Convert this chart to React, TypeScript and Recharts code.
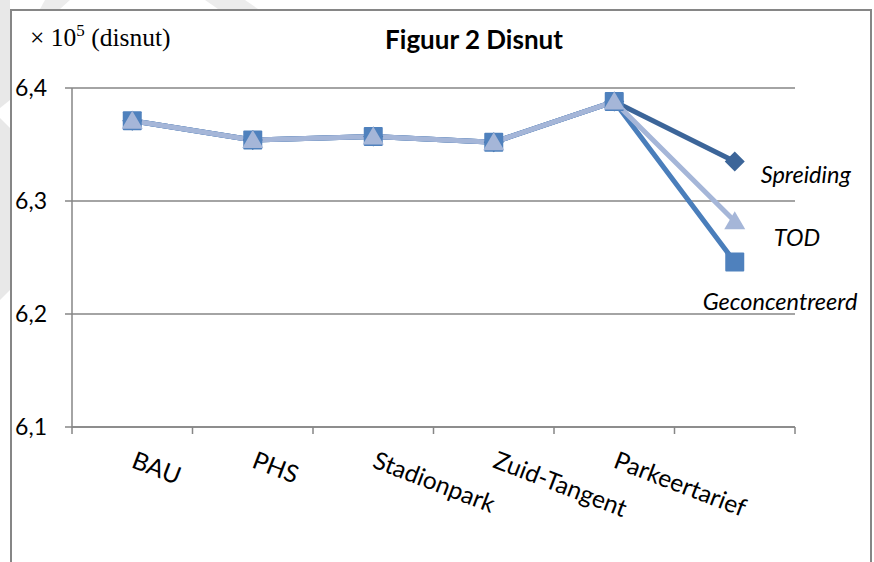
import { LineChart, Line, XAxis, YAxis, CartesianGrid, LabelList } from "recharts";

// categories along the x axis (last one has no label)
const categories = ["BAU", "PHS", "Stadionpark", "Zuid-Tangent", "Parkeertarief", ""];

// disnut values (x 10^5)
const spreiding = [6.371, 6.354, 6.357, 6.352, 6.388, 6.335];
const geconcentreerd = [6.371, 6.354, 6.357, 6.352, 6.388, 6.246];
const tod = [6.371, 6.354, 6.357, 6.352, 6.388, 6.282];

const yTicks = [6.1, 6.2, 6.3, 6.4];
const xTicks = [0, 1, 2, 3, 4, 5, 6];

const data = categories.map((name, i) => ({
  name,
  pos: i + 0.5,
  spreiding: spreiding[i],
  geconcentreerd: geconcentreerd[i],
  tod: tod[i],
}));

const AXIS = "#868686";
const FONT = "Lato, 'Open Sans', sans-serif";
const BAND = 723 / 6;

function CategoryTick({ x, y, payload }: any) {
  const label = categories[payload.value];
  if (!label) return <g />;
  return (
    <g transform={`translate(${x + BAND / 2 - 2},${y + 31}) rotate(21)`}>
      <text x={0} y={0} textAnchor="start" fontSize={24.5} fontFamily={FONT} fill="#000">
        {label}
      </text>
    </g>
  );
}

function SquareDot({ cx, cy, fill }: any) {
  if (cx == null || cy == null) return <g />;
  return <rect x={cx - 9.5} y={cy - 9.5} width={19} height={19} fill={fill} rx={1} />;
}

function DiamondDot({ cx, cy, fill }: any) {
  if (cx == null || cy == null) return <g />;
  const r = 10;
  return <polygon points={`${cx},${cy - r} ${cx + r},${cy} ${cx},${cy + r} ${cx - r},${cy}`} fill={fill} />;
}

function TriangleDot({ cx, cy, fill }: any) {
  if (cx == null || cy == null) return <g />;
  return (
    <polygon points={`${cx},${cy - 10} ${cx + 10.5},${cy + 8} ${cx - 10.5},${cy + 8}`} fill={fill} />
  );
}

function endLabel(text: string, dx: number, dy: number) {
  return (props: any) => {
    const { x, y, index } = props;
    if (index !== categories.length - 1) return null;
    return (
      <text x={x + dx} y={y + dy} fontSize={23.5} fontStyle="italic" fontFamily={FONT} fill="#000">
        {text}
      </text>
    );
  };
}

export default function App() {
  return (
    <div style={{ position: "relative", width: 874, height: 562, overflow: "hidden", background: "#fff" }}>
      <style>{"body{margin:0}"}</style>
      <svg width={874} height={562} style={{ position: "absolute", left: 0, top: 0 }}>
        <polygon points="0,0 10,0 10,100 0,108" fill="#e8e8e8" />
        <polygon points="0,118 10,128 10,290 0,300" fill="#e8e8e8" />
        <polygon points="45,0 70,0 60,9 40,9" fill="#ececec" />
        <polygon points="205,0 245,0 258,9 218,9" fill="#ececec" />
      </svg>
      <div
        style={{
          position: "absolute",
          left: 10,
          top: 9,
          width: 858,
          height: 570,
          border: `2px solid ${AXIS}`,
          background: "#fff",
        }}
      />
      <div style={{ position: "absolute", left: 0, top: 0 }}>
        <LineChart width={874} height={562} data={data} margin={{ top: 88, right: 79, left: 15, bottom: 75 }}>
          <CartesianGrid horizontal vertical={false} stroke={AXIS} strokeWidth={1.5} />
          <XAxis
            dataKey="pos"
            type="number"
            domain={[0, 6]}
            ticks={xTicks}
            interval={0}
            height={60}
            tickSize={7}
            stroke={AXIS}
            strokeWidth={1.5}
            tick={<CategoryTick />}
          />
          <YAxis
            domain={[6.1, 6.4]}
            ticks={yTicks}
            width={57}
            tickSize={7}
            tickMargin={18}
            stroke={AXIS}
            strokeWidth={1.5}
            tickFormatter={(v: number) => v.toFixed(1).replace(".", ",")}
            tick={{ fill: "#000", fontSize: 23, fontFamily: FONT }}
          />
          <Line
            dataKey="spreiding"
            stroke="#3C6599"
            strokeWidth={5}
            strokeLinejoin="round"
            dot={<DiamondDot fill="#3C6599" />}
            isAnimationActive={false}
          >
            <LabelList content={endLabel("Spreiding", 26, 22)} />
          </Line>
          <Line
            dataKey="geconcentreerd"
            stroke="#4A7EBB"
            strokeWidth={5}
            strokeLinejoin="round"
            dot={<SquareDot fill="#4F81BD" />}
            isAnimationActive={false}
          >
            <LabelList content={endLabel("Geconcentreerd", -32, 48)} />
          </Line>
          <Line
            dataKey="tod"
            stroke="#A5B6D8"
            strokeWidth={5}
            strokeLinejoin="round"
            dot={<TriangleDot fill="#A5B6D8" />}
            isAnimationActive={false}
          >
            <LabelList content={endLabel("TOD", 39, 25)} />
          </Line>
        </LineChart>
      </div>
      <svg width={874} height={80} style={{ position: "absolute", left: 0, top: 0, pointerEvents: "none" }}>
        <text x={30} y={46} fontSize={25.5} fontFamily="'Liberation Serif', 'DejaVu Serif', serif" fill="#000">
          × 10
          <tspan dy={-10} fontSize={17}>5</tspan>
          <tspan dy={10}> (disnut)</tspan>
        </text>
        <text x={474} y={49} textAnchor="middle" fontSize={26} fontWeight="bold" fontFamily={FONT} fill="#000">
          Figuur 2 Disnut
        </text>
      </svg>
    </div>
  );
}
